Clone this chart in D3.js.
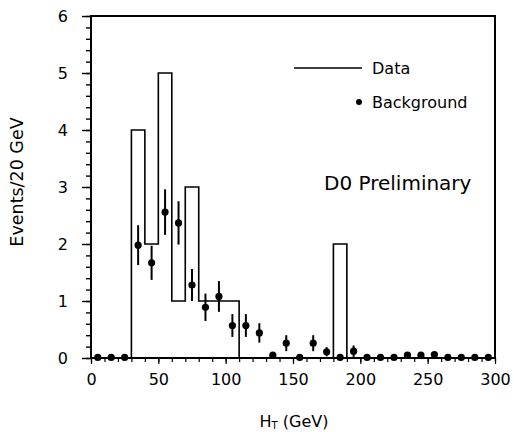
<!DOCTYPE html>
<html>
<head>
<meta charset="utf-8">
<script src="https://cdn.jsdelivr.net/npm/d3@7"></script>
<style>
  html, body { margin: 0; padding: 0; background: #fff; }
  svg { display: block; }
  text { font-family: "DejaVu Sans", sans-serif; fill: #000; }
</style>
</head>
<body>
<svg id="chart" width="514" height="432"></svg>
<script>
// H_T histogram in 10 GeV bins
const binLowEdges = [0, 10, 20, 30, 40, 50, 60, 70, 80, 90, 100, 110, 120, 130, 140,
                     150, 160, 170, 180, 190, 200, 210, 220, 230, 240, 250, 260, 270, 280, 290];
const binCenters  = [5, 15, 25, 35, 45, 55, 65, 75, 85, 95, 105, 115, 125, 135, 145,
                     155, 165, 175, 185, 195, 205, 215, 225, 235, 245, 255, 265, 275, 285, 295];
const dataCounts  = [0, 0, 0, 4, 2, 5, 1, 3, 1, 1, 1, 0, 0, 0, 0,
                     0, 0, 0, 2, 0, 0, 0, 0, 0, 0, 0, 0, 0, 0, 0];
const bgValues    = [0.01, 0.01, 0.01, 1.98, 1.67, 2.56, 2.37, 1.28, 0.89, 1.08, 0.57, 0.57, 0.44, 0.05, 0.26,
                     0.01, 0.26, 0.11, 0.01, 0.12, 0.01, 0.01, 0.01, 0.05, 0.05, 0.06, 0.01, 0.01, 0.01, 0.01];
const bgErrors    = [0, 0, 0, 0.35, 0.3, 0.4, 0.38, 0.28, 0.24, 0.27, 0.2, 0.2, 0.17, 0.04, 0.14,
                     0, 0.14, 0.08, 0, 0.1, 0, 0, 0, 0.03, 0.03, 0.03, 0, 0, 0, 0];
const xTickLabels = [0, 50, 100, 150, 200, 250, 300];
const yTickLabels = [0, 1, 2, 3, 4, 5, 6];

const svg = d3.select("#chart");
const plotL = 91, plotR = 495, plotT = 16, plotB = 358;

const x = d3.scaleLinear().domain([0, 300]).range([plotL, plotR]);
const y = d3.scaleLinear().domain([0, 6]).range([plotB, plotT]);

// frame
svg.append("rect")
  .attr("x", plotL).attr("y", plotT)
  .attr("width", plotR - plotL).attr("height", plotB - plotT)
  .attr("fill", "none").attr("stroke", "#000").attr("stroke-width", 2);

// x axis: minor ticks every 10 GeV, labelled every 50
const xMinor = d3.axisBottom(x).tickValues(d3.range(0, 301, 10)).tickSize(4).tickFormat("");
const xMajor = d3.axisBottom(x).tickValues(xTickLabels).tickSize(6).tickPadding(10).tickFormat(d3.format("d"));
[xMinor, xMajor].forEach(ax => {
  const g = svg.append("g").attr("transform", `translate(0,${plotB})`).call(ax);
  g.select(".domain").remove();
  g.selectAll("line").attr("stroke", "#000").attr("stroke-width", 1.2);
  g.selectAll("text").attr("font-size", 16).attr("font-family", "DejaVu Sans");
});

// y axis: minor ticks every 0.2, labelled every 1
const yMinor = d3.axisLeft(y).tickValues(d3.range(0, 6.01, 0.2)).tickSize(5).tickFormat("");
const yMajor = d3.axisLeft(y).tickValues(yTickLabels).tickSize(9).tickPadding(14).tickFormat(d3.format("d"));
[yMinor, yMajor].forEach(ax => {
  const g = svg.append("g").attr("transform", `translate(${plotL},0)`).call(ax);
  g.select(".domain").remove();
  g.selectAll("line").attr("stroke", "#000").attr("stroke-width", 1.4);
  g.selectAll("text").attr("font-size", 16).attr("font-family", "DejaVu Sans");
});

// data histogram outline
const stepPts = binLowEdges.map((e, i) => [e, dataCounts[i]]);
stepPts.push([300, dataCounts[dataCounts.length - 1]]);
const stepLine = d3.line().x(d => x(d[0])).y(d => y(d[1])).curve(d3.curveStepAfter);
svg.append("path")
  .attr("d", stepLine(stepPts))
  .attr("fill", "none").attr("stroke", "#000").attr("stroke-width", 1.6);

// background expectation with error bars
const bg = svg.append("g");
binCenters.forEach((c, i) => {
  if (bgErrors[i] > 0) {
    bg.append("line")
      .attr("x1", x(c)).attr("x2", x(c))
      .attr("y1", y(bgValues[i] - bgErrors[i])).attr("y2", y(bgValues[i] + bgErrors[i]))
      .attr("stroke", "#000").attr("stroke-width", 2);
  }
  bg.append("circle")
    .attr("cx", x(c)).attr("cy", y(bgValues[i]))
    .attr("r", 3.6).attr("fill", "#000");
});

// legend
svg.append("line").attr("x1", 294).attr("x2", 362).attr("y1", 68).attr("y2", 68)
  .attr("stroke", "#000").attr("stroke-width", 1.6);
svg.append("text").attr("x", 372).attr("y", 68).attr("dy", "0.35em")
  .attr("font-size", 16).text("Data");
svg.append("circle").attr("cx", 359).attr("cy", 102).attr("r", 3).attr("fill", "#000");
svg.append("text").attr("x", 372).attr("y", 102).attr("dy", "0.35em")
  .attr("font-size", 16).text("Background");

svg.append("text").attr("x", 324).attr("y", 183).attr("dy", "0.35em")
  .attr("font-size", 20).text("D0 Preliminary");

// axis titles
const xt = svg.append("text").attr("x", 294).attr("y", 427)
  .attr("text-anchor", "middle").attr("font-size", 16);
xt.append("tspan").text("H");
xt.append("tspan").attr("font-size", 10).attr("dy", 2).text("T");
xt.append("tspan").attr("dy", -2).text(" (GeV)");

svg.append("text")
  .attr("transform", "translate(17,182) rotate(-90)")
  .attr("text-anchor", "middle").attr("dy", "0.35em")
  .attr("font-size", 17.5).text("Events/20 GeV");
</script>
</body>
</html>
